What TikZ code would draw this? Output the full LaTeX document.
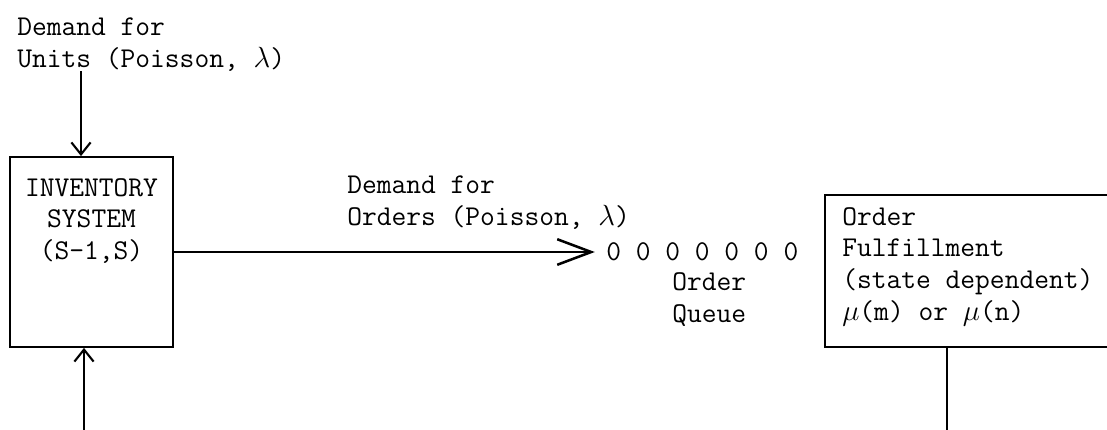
\documentclass[tikz,border=0pt]{standalone}
\usepackage{tikz}
\usetikzlibrary{arrows.meta,positioning}
\newcommand{\typewr}{\ttfamily\fontsize{20.4}{22.5}\selectfont}
\tikzset{
  lbl/.style={inner sep=0pt,align=left,font=\typewr},
  sysbox/.style={draw,line width=1.3pt,inner sep=0pt},
  unitarrow/.style={-{Straight Barb[length=3mm,width=4.8mm,line width=1.5pt]},line width=1.3pt},
  orderarrow/.style={-{Straight Barb[length=8.5mm,width=6.4mm,line width=1.8pt]},line width=1.2pt},
  returnline/.style={line width=1.3pt}
}
\begin{document}
\begin{tikzpicture}
  \useasboundingbox (0,0) rectangle (27.675,-10.725);
  \clip (0,0) rectangle (27.675,-10.725);
  % inventory system
  \node[sysbox,minimum width=4.075cm,minimum height=4.75cm] (inv) at (2.2875,-6.3) {};
  \node[lbl,align=center,anchor=base] (invtext) at ([yshift=-2.58cm]inv.north) {INVENTORY\\SYSTEM\\(S-1,S)};
  \node[lbl,anchor=base west] (units) at (0.425,-1.675) {Demand for\\Units (Poisson, $\lambda$)};
  \draw[unitarrow] ([xshift=1.6cm]units.south west) -- ([xshift=1.6cm]units.south west |- inv.north);
  % order queue
  \node[lbl,anchor=base west] (queue) at (15.15,-6.5) {0 0 0 0 0 0 0};
  \node[lbl,anchor=base west] (queuelbl) at (16.8,-8.05) {Order\\Queue};
  \node[lbl,anchor=base west] (orders) at (8.675,-5.625) {Demand for\\Orders (Poisson, $\lambda$)};
  \draw[orderarrow,shorten >=2.8mm] (inv.east) -- (inv.east -| queue.west);
  % order fulfillment
  \node[sysbox,minimum width=7.625cm,minimum height=3.8cm] (ful) at (24.4375,-6.775) {};
  \node[lbl,anchor=base west] (fultext) at (21.05,-8.0) {Order\\Fulfillment\\(state dependent)\\$\mu$(m) or $\mu$(n)};
  % return loop
  \coordinate (retL) at (2.1,-11);
  \coordinate (retR) at (23.675,-11);
  \draw[returnline] (ful.south -| retR) -- (retR);
  \draw[unitarrow] (retL) -- (retL |- inv.south);
\end{tikzpicture}
\end{document}
